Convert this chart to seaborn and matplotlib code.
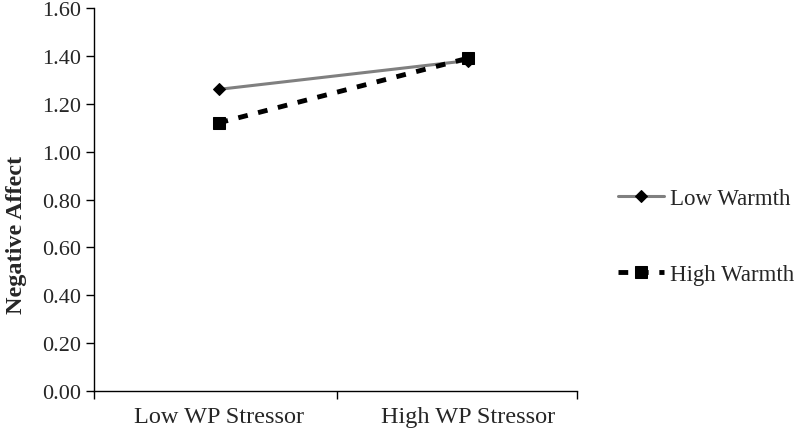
import pandas as pd
import matplotlib.pyplot as plt
import seaborn as sns

# stressor levels and the two warmth series
stressor = ['Low WP Stressor', 'High WP Stressor']
low_warmth = [1.26, 1.38]
high_warmth = [1.12, 1.39]

df = pd.DataFrame({
    'stressor': stressor * 2,
    'value': low_warmth + high_warmth,
    'warmth': ['Low Warmth'] * 2 + ['High Warmth'] * 2,
})

sns.set_style('white')
plt.rcParams['font.family'] = ['Liberation Serif', 'DejaVu Serif']

fig = plt.figure(figsize=(8, 4.39), dpi=100)
ax = fig.add_axes([0.1175, 0.107, 0.604, 0.8725])

sns.lineplot(data=df[df.warmth == 'Low Warmth'], x='stressor', y='value', ax=ax,
             color='#808080', linewidth=2.2, marker='D', markersize=6,
             markerfacecolor='black', markeredgecolor='black', label='Low Warmth')
sns.lineplot(data=df[df.warmth == 'High Warmth'], x='stressor', y='value', ax=ax,
             color='black', linewidth=3.5, linestyle=(0, (2, 2.2)), marker='s', markersize=8,
             markerfacecolor='black', markeredgecolor='black', label='High Warmth')

ax.set_ylim(0, 1.6)
ax.set_yticks([i * 0.2 for i in range(9)])
ax.set_yticklabels([f'{i * 0.2:.2f}' for i in range(9)], fontsize=16)
ax.set_xlim(-0.5, 1.44)
ax.set_xticks([-0.5, 0.475, 1.44])
ax.set_xticklabels([])
ax.set_xticks([0, 1], minor=True)
ax.set_xticklabels(stressor, minor=True, fontsize=17.5)
ax.tick_params(axis='x', which='major', direction='out', length=6, width=1, color='black', bottom=True)
ax.tick_params(axis='x', which='minor', length=0, pad=11)
ax.tick_params(axis='y', direction='out', length=6, width=1, color='black', left=True, labelsize=16)
ax.set_xlabel('')
ax.set_ylabel('Negative Affect', fontsize=17.5, fontweight='bold')
ax.yaxis.set_label_coords(-0.138, 0.41)

for s in ['top', 'right']:
    ax.spines[s].set_visible(False)
for s in ['left', 'bottom']:
    ax.spines[s].set_color('black')
    ax.spines[s].set_linewidth(1)

h, l = ax.get_legend_handles_labels()
ax.get_legend().remove()
fig.legend(h, l, loc='center left', bbox_to_anchor=(0.7725, 0.46), frameon=False,
           fontsize=16.5, handlelength=2.0, labelspacing=2.4, handletextpad=0.28,
           borderpad=0, borderaxespad=0)

fig.savefig('out.png', dpi=100)
